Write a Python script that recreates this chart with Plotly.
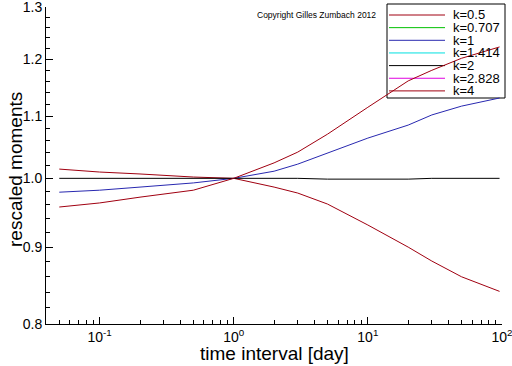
import plotly.graph_objects as go

# ---- data ----
x_vals = [0.05, 0.1, 0.2, 0.5, 1, 2, 3, 5, 10, 20, 30, 50, 96]
k_labels = ["k=0.5", "k=0.707", "k=1", "k=1.414", "k=2", "k=2.828", "k=4"]
k05 = [1.0143, 1.0097, 1.0067, 1.002, 1.0, 0.9867, 0.9777, 0.9614, 0.931, 0.900, 0.881, 0.860, 0.841]
k0707 = []
k1 = [0.979, 0.982, 0.9867, 0.993, 1.0, 1.011, 1.022, 1.0394, 1.0636, 1.085, 1.102, 1.117, 1.131]
k1414 = []
k2 = [1.0, 1.0, 1.0, 1.0, 1.0, 1.0, 1.0, 0.9988, 0.9988, 0.9988, 1.0, 1.0, 1.0]
k2828 = []
k4 = [0.957, 0.963, 0.9716, 0.982, 1.0, 1.024, 1.041, 1.070, 1.115, 1.161, 1.180, 1.202, 1.223]
series = [k05, k0707, k1, k1414, k2, k2828, k4]
colors = ["#a00010", "#00c000", "#2828b0", "#00e0e0", "#000000", "#e000e0", "#a00010"]

y_ticks = [0.8, 0.9, 1.0, 1.1, 1.2, 1.3]
y_ticktext = ["0.8", "0.9", "1.0", "1.1", "1.2", "1.3"]
y_minor = [0.82, 0.84, 0.86, 0.88, 0.92, 0.94, 0.96, 0.98, 1.02, 1.04, 1.06, 1.08,
           1.12, 1.14, 1.16, 1.18, 1.22, 1.24, 1.26, 1.28]
x_ticks = [0.1, 1, 10, 100]
x_ticktext = ["10<sup>-1</sup>", "10<sup>0</sup>", "10<sup>1</sup>", "10<sup>2</sup>"]
x_minor = [0.05, 0.06, 0.07, 0.08, 0.09] + [m * d for d in (0.1, 1, 10) for m in range(2, 10)]

FONT = "Liberation Sans, Arial, sans-serif"

fig = go.Figure()
for name, ys, col in zip(k_labels, series, colors):
    fig.add_trace(go.Scatter(
        x=x_vals[:len(ys)], y=ys, mode="lines", name=name,
        line=dict(color=col, width=1), showlegend=False))

# plot area in pixels
L, R, T, B = 46, 502, 7, 324
W, H = 512, 366


def px(xp):
    return (xp - L) / (R - L)


def py(yp):
    return (B - yp) / (B - T)


# manual legend box
fig.add_shape(type="rect", xref="paper", yref="paper",
              x0=px(387), x1=px(505), y0=py(98), y1=py(4),
              line=dict(color="black", width=1), fillcolor="white", layer="below")
row0, step = 15.0, 12.65
for i, (name, col) in enumerate(zip(k_labels, colors)):
    yc = row0 + i * step
    fig.add_shape(type="line", xref="paper", yref="paper",
                  x0=px(389), x1=px(445), y0=py(yc), y1=py(yc),
                  line=dict(color=col, width=1), layer="below")
    fig.add_annotation(xref="paper", yref="paper", x=px(452), y=py(yc),
                       text=name, showarrow=False, xanchor="left", yanchor="middle",
                       borderpad=0,
                       font=dict(family=FONT, size=13, color="black"))

fig.add_annotation(xref="paper", yref="paper", x=px(256), y=py(15),
                   text="Copyright Gilles Zumbach 2012", showarrow=False,
                   xanchor="left", yanchor="middle", borderpad=0,
                   font=dict(family=FONT, size=8.5, color="black"))

# axis titles
fig.add_annotation(xref="paper", yref="paper", x=px(274), y=py(353),
                   text="time interval [day]", showarrow=False,
                   xanchor="center", yanchor="middle", borderpad=0,
                   font=dict(family=FONT, size=19, color="black"))
fig.add_annotation(xref="paper", yref="paper", x=px(15), y=py(170),
                   text="rescaled moments", showarrow=False, textangle=-90,
                   xanchor="center", yanchor="middle", borderpad=0,
                   font=dict(family=FONT, size=19, color="black"))

fig.update_layout(
    width=W, height=H,
    margin=dict(l=L, r=W - R, t=T, b=H - B, autoexpand=False),
    paper_bgcolor="white", plot_bgcolor="white",
    font=dict(family=FONT, color="black"),
    showlegend=False,
    xaxis=dict(
        type="log", range=[-1.4, 2.0005], automargin=False,
        tickmode="array", tickvals=x_ticks, ticktext=x_ticktext,
        ticklabeloverflow="allow",
        ticks="inside", ticklen=7, tickcolor="black",
        minor=dict(tickmode="array", tickvals=x_minor, ticks="inside", ticklen=4,
                   tickcolor="black", showgrid=False),
        showline=True, linecolor="black", linewidth=1, mirror=False,
        showgrid=False, zeroline=False,
        tickfont=dict(family=FONT, size=14, color="black"),
    ),
    yaxis=dict(
        type="log", range=[-0.09691, 0.11400], automargin=False,
        tickmode="array", tickvals=y_ticks, ticktext=y_ticktext,
        ticklabeloverflow="allow",
        ticks="inside", ticklen=7, tickcolor="black",
        minor=dict(tickmode="array", tickvals=y_minor, ticks="inside", ticklen=4,
                   tickcolor="black", showgrid=False),
        showline=True, linecolor="black", linewidth=1, mirror=False,
        showgrid=False, zeroline=False,
        tickfont=dict(family=FONT, size=14, color="black"),
    ),
)

fig.write_html("out.html", config={"displayModeBar": False},
               post_script="document.body.style.margin='0';")
